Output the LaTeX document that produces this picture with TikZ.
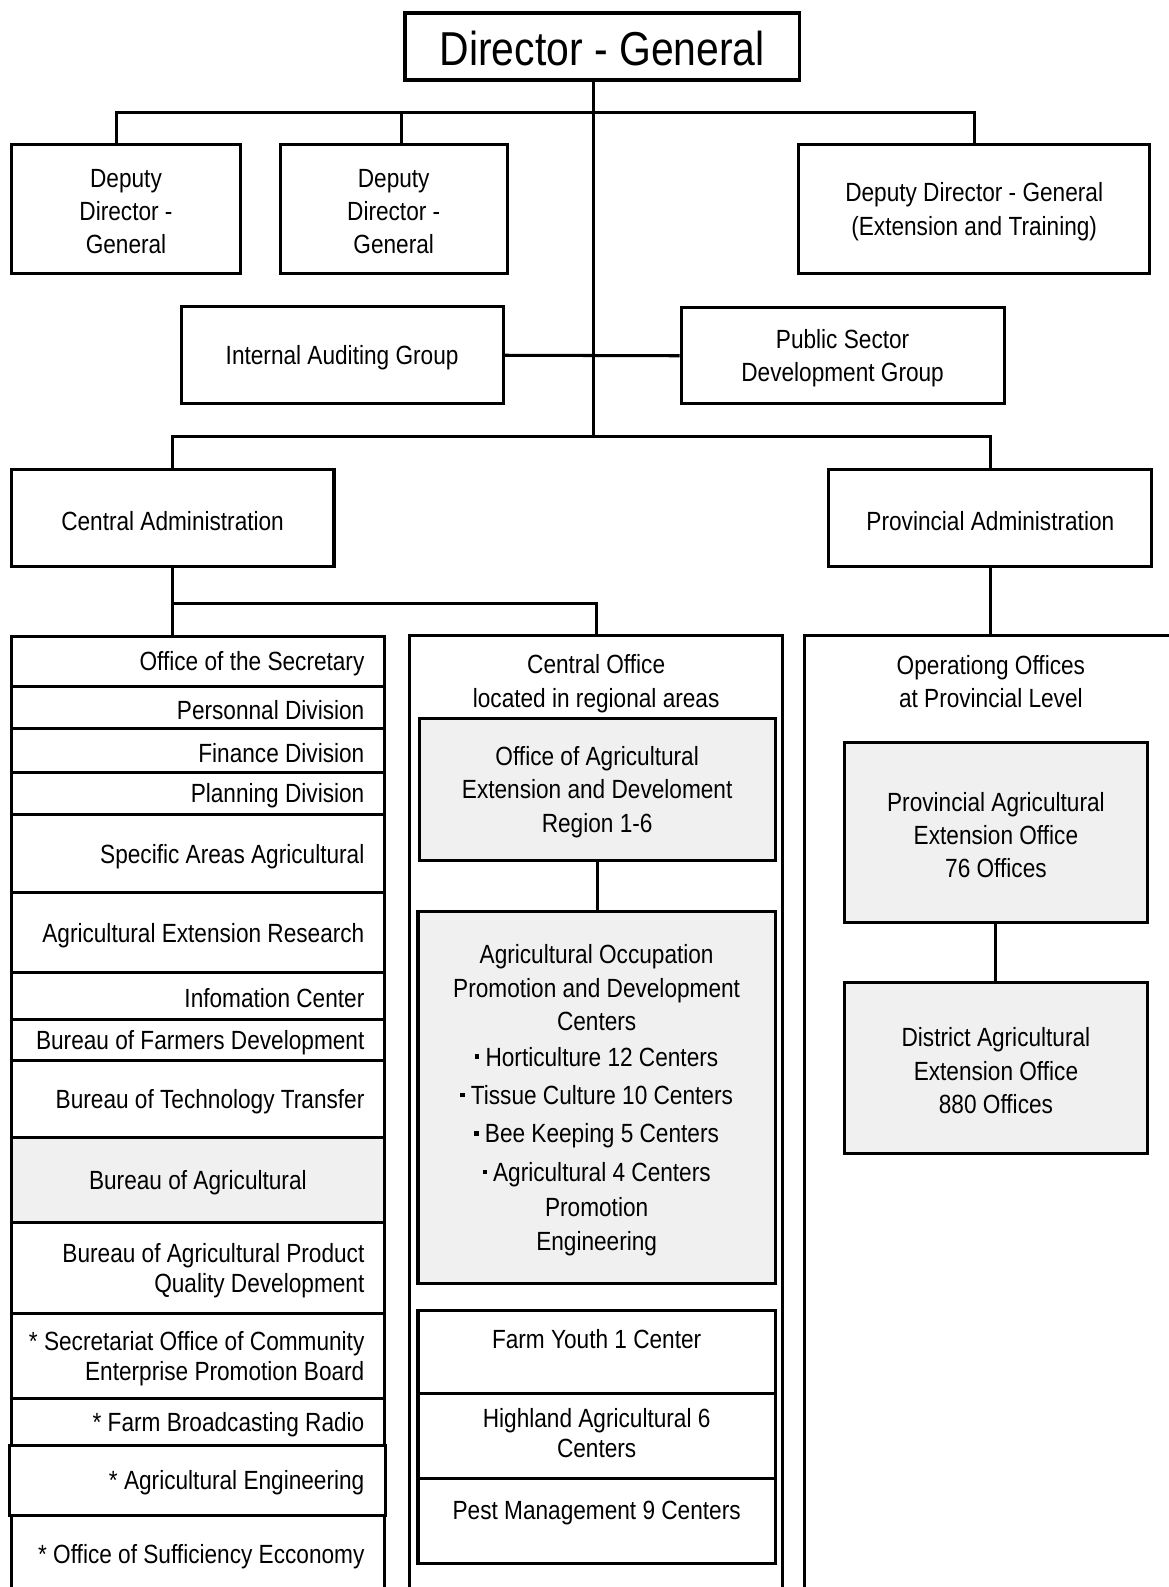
\documentclass[tikz,border=0pt]{standalone}
\usepackage{fontspec}
\setmainfont{Liberation Sans}[FakeStretch=0.86]
\definecolor{boxgrey}{RGB}{240,240,240}
% frame from corner (x1,y1) to (x2,y2), in pixel units, y downwards
\newcommand\orgframe[6][]{%
  \node[box,#1,minimum width={(#5-#3)*0.5pt},minimum height={(#6-#4)*0.5pt}]
    (#2) at ({(#3+#5)/2},{(#4+#6)/2}) {};}
% frame with centred text
\newcommand\orgbox[7][]{%
  \orgframe[#1]{#2}{#3}{#4}{#5}{#6}%
  \node[txt] (#2t) at (#2.center) {#7};}
% one row of the central administration list, label set flush right
\newcommand\listrow[4]{%
  \orgframe{#1}{11}{#2}{380}{#3}%
  \node[txt,anchor=east,align=right] (#1t) at ([xshift=-10pt]#1.east) {#4};}
\newcommand\sqb{\raisebox{3.6pt}{\rule{2.2pt}{2.2pt}}\hspace{3pt}}
\begin{document}
\begin{tikzpicture}[x=0.5pt,y=-0.5pt,line width=1.5pt,
  every node/.style={font=\fontsize{13}{16.5}\selectfont},
  box/.style={draw,line width=1.5pt,inner sep=0pt},
  txt/.style={align=center,inner sep=0pt,yshift=-1.25pt},
  greybox/.style={fill=boxgrey}]
\useasboundingbox (0,0) rectangle (1155,1568);

% top level
\orgframe[line width=1.7pt]{dg}{400}{13}{790}{79}
\node[txt,font=\fontsize{23.5}{28}\selectfont,yshift=0.5pt] (dgt) at (dg.center) {Director - General};
\orgbox{d1}{11}{143}{238}{270}{Deputy\\Director -\\General}
\orgbox{d2}{277}{143}{501}{270}{Deputy\\Director -\\General}
\orgbox{d3}{789}{143}{1136}{270}{Deputy Director - General\\(Extension and Training)}
\orgbox{ia}{179}{303}{497}{399}{Internal Auditing Group}
\orgbox{psd}{673}{304}{992}{399}{Public Sector\\Development Group}
\orgbox{ca}{11}{464}{330}{560}{Central Administration}
\orgbox{pa}{819}{464}{1138}{560}{Provincial Administration}

% central administration list
\listrow{r1}{629}{678}{Office of the Secretary}
\listrow{r2}{678}{720}{Personnal Division}
\listrow{r3}{720}{763}{Finance Division}
\listrow{r4}{763}{805}{Planning Division}
\listrow{r5}{805}{882}{Specific Areas Agricultural}
\listrow{r6}{882}{961}{Agricultural Extension Research}
\listrow{r7}{961}{1007}{Infomation Center}
\listrow{r8}{1007}{1048}{Bureau of Farmers Development}
\listrow{r9}{1048}{1124}{Bureau of Technology Transfer}
\orgbox[greybox]{r10}{11}{1124}{380}{1208}{Bureau of Agricultural}
\listrow{r11}{1208}{1298}{Bureau of Agricultural Product\\[-1.5pt]Quality Development}
\listrow{r12}{1298}{1382}{* Secretariat Office of Community\\[-1.5pt]Enterprise Promotion Board}
\listrow{r13}{1382}{1428}{* Farm Broadcasting Radio}
\orgframe{r14}{9}{1428}{381}{1497}
\node[txt,anchor=east,align=right] (r14t) at ([xshift=-10.5pt]r14.east) {* Agricultural Engineering};
\listrow{r15}{1497}{1575}{* Office of Sufficiency Ecconomy}

% central office located in regional areas
\orgframe{co}{405}{628}{773}{1600}
\node[txt] (coh) at (589,673) {Central Office\\located in regional areas};
\orgbox[greybox]{oae}{414}{710}{766}{850}{Office of Agricultural\\Extension and Develoment\\Region 1-6}
\orgbox[greybox]{aop}{413}{901}{766}{1268}{Agricultural Occupation\\
Promotion and Development\\
Centers\\[1pt]
\sqb Horticulture 12 Centers\\[2.5pt]
\sqb Tissue Culture 10 Centers\\[2.5pt]
\sqb Bee Keeping 5 Centers\\[2.5pt]
\sqb Agricultural 4 Centers\\[1pt]
Promotion\\
Engineering}
\orgbox{fy}{413}{1295}{766}{1377}{Farm Youth 1 Center\\[-0.5pt]\mbox{}}
\orgframe{hl}{413}{1377}{766}{1461}
\node[txt,yshift=2.75pt] (hlt) at (hl.center) {Highland Agricultural 6\\[-2pt]Centers};
\orgbox{pm}{413}{1461}{766}{1545}{Pest Management 9 Centers\\[-3pt]\mbox{}}

% provincial level
\orgframe{op}{795}{628}{1163}{1600}
\node[txt] (oph) at (979,671) {Operationg Offices\\at Provincial Level};
\orgbox[greybox]{pae}{834}{734}{1134}{911}{Provincial Agricultural\\Extension Office\\76 Offices}
\orgbox[greybox]{dae}{834}{971}{1134}{1140}{District Agricultural\\Extension Office\\880 Offices}

% connectors
\coordinate (t1) at (586,111);
\coordinate (t3) at (586,431);
\coordinate (c1) at (115,111);
\coordinate (c2) at (397,111);
\coordinate (c3) at (963,111);
\coordinate (j4) at (170,596);
\draw (dg.south -| t1) -- (t3);
\draw (c1 |- d1.north) -- (c1) -- (c3) -- (c3 |- d3.north);
\draw (c2) -- (c2 |- d2.north);
\draw (ia.east) -- (psd.west);
\draw (ca.north) |- (t3) -| (pa.north);
\draw (ca.south) -- (ca.south |- r1.north);
\draw (j4) -| (co.north);
\draw (pa.south) -- (pa.south |- op.north);
\draw (oae.south) -- (oae.south |- aop.north);
\draw (pae.south) -- (dae.north);
\end{tikzpicture}
\end{document}
